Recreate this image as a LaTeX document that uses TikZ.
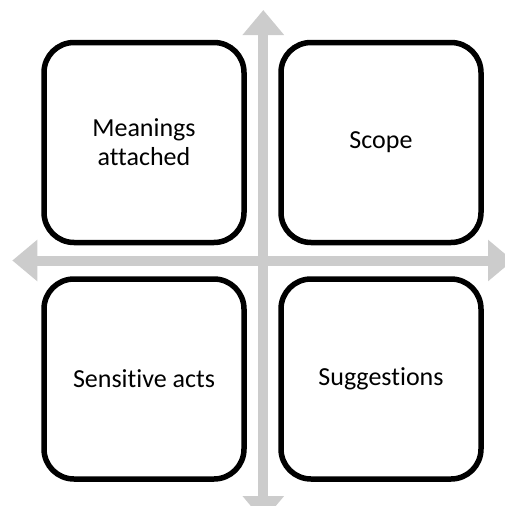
\documentclass[tikz,border=0pt]{standalone}
\usepackage{fontspec}
\setmainfont{Carlito}[Ligatures=NoCommon]
\usetikzlibrary{arrows.meta}
\begin{document}
\begin{tikzpicture}[x=1pt,y=-1pt,
  box/.style={draw=black, line width=5.5pt, fill=white, rounded corners=30pt,
    minimum width=200pt, minimum height=200pt, align=center, inner sep=0pt,
    font=\fontsize{26}{29}\selectfont},
  axisline/.style={draw=gray!40, line width=10pt,
    {Triangle[width=40pt,length=25pt]}-{Triangle[width=40pt,length=25pt]}}]
\useasboundingbox (0,0) rectangle (504,506);
\coordinate (top) at (263.3,10);
\coordinate (bottom) at (263.3,521);
\coordinate (left) at (12.3,260.5);
\coordinate (right) at (513,260.5);
\draw[axisline] (top) -- (bottom);
\draw[axisline] (left) -- (right);
\node[box] (ma) at (144,142.5) {Meanings\\attached};
\node[box] (sc) at (381,142.5) {Scope};
\node[box] (sa) at (144,379) {Sensitive acts};
\node[box] (su) at (381,379) {Suggestions};
\end{tikzpicture}
\end{document}
